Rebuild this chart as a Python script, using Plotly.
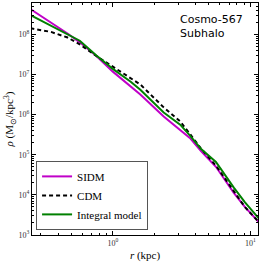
import plotly.graph_objects as go

# radius (kpc) sampling points
r_kpc = [0.251, 0.355, 0.468, 0.575, 0.759, 1.0, 1.349, 1.585, 2.344, 3.090, 3.631, 4.365, 5.623, 7.586, 9.120, 11.48]
# log10 density (Msun/kpc^3)
log_rho_sidm = [8.63, 8.30, 8.02, 7.80, 7.46, 7.07, 6.70, 6.50, 5.95, 5.63, 5.42, 5.10, 4.70, 4.05, 3.70, 3.33]
log_rho_cdm = [8.15, 8.06, 7.92, 7.75, 7.46, 7.20, 6.92, 6.75, 6.18, 5.83, 5.52, 5.16, 4.73, 4.10, 3.70, 3.33]
log_rho_model = [8.48, 8.22, 8.01, 7.84, 7.47, 7.14, 6.82, 6.62, 6.05, 5.75, 5.48, 5.15, 4.82, 4.18, 3.82, 3.42]

x_major = [1, 10]
x_major_text = ["10<sup>0</sup>", "10<sup>1</sup>"]
y_major = [1e3, 1e4, 1e5, 1e6, 1e7, 1e8]
y_major_text = ["10<sup>3</sup>", "10<sup>4</sup>", "10<sup>5</sup>", "10<sup>6</sup>", "10<sup>7</sup>", "10<sup>8</sup>"]

x_minor = [m * 10 ** e for e in (-1, 0, 1) for m in range(2, 10)]
y_minor = [m * 10 ** e for e in range(3, 9) for m in range(2, 10)]

rho_sidm = [10 ** v for v in log_rho_sidm]
rho_cdm = [10 ** v for v in log_rho_cdm]
rho_model = [10 ** v for v in log_rho_model]

fig = go.Figure()
fig.add_trace(go.Scatter(x=r_kpc, y=rho_sidm, mode="lines", name="SIDM",
                         line=dict(color="#c000c8", width=2)))
fig.add_trace(go.Scatter(x=r_kpc, y=rho_cdm, mode="lines", name="CDM",
                         line=dict(color="black", width=2, dash="4px,3px")))
fig.add_trace(go.Scatter(x=r_kpc, y=rho_model, mode="lines", name="Integral model",
                         line=dict(color="#008000", width=2)))

axis_common = dict(
    showline=True, linecolor="black", linewidth=1, mirror="ticks",
    ticks="inside", ticklen=4, tickcolor="black", showgrid=False, zeroline=False,
    tickmode="array", tickfont=dict(family="Liberation Serif", size=8, color="#333"),
)

fig.update_xaxes(type="log", range=[-0.588, 1.056], tickvals=x_major, ticktext=x_major_text,
                 minor=dict(tickmode="array", tickvals=x_minor, ticks="inside", ticklen=2, tickcolor="black"),
                 title=dict(text="<i>r</i> (kpc)", font=dict(family="Liberation Serif", size=11, color="black"), standoff=4),
                 **axis_common)
fig.update_yaxes(type="log", range=[3, 8.78], tickvals=y_major, ticktext=y_major_text,
                 minor=dict(tickmode="array", tickvals=y_minor, ticks="inside", ticklen=2, tickcolor="black"),
                 title=dict(text="<i>ρ</i> (M<sub>⊙</sub>/kpc<sup>3</sup>)", font=dict(family="Liberation Serif", size=11, color="black"), standoff=2),
                 **axis_common)

fig.add_annotation(xref="paper", yref="paper", x=0.645, y=0.965, xanchor="left", yanchor="top",
                   text="Cosmo-567<br>Subhalo", showarrow=False, align="left",
                   font=dict(family="DejaVu Sans", size=11, color="black"))

fig.update_layout(
    width=261, height=262,
    margin=dict(l=32, r=3, t=3, b=27),
    plot_bgcolor="white", paper_bgcolor="white",
    legend=dict(x=0.018, y=0.022, xanchor="left", yanchor="bottom",
                bgcolor="white", bordercolor="#555", borderwidth=1,
                font=dict(family="Liberation Serif", size=11, color="black"),
                tracegroupgap=0, itemwidth=30),
    showlegend=True,
)

fig.write_html("out.html", config={"displayModeBar": False},
               post_script="document.body.style.margin='0';document.body.style.overflow='hidden';")
